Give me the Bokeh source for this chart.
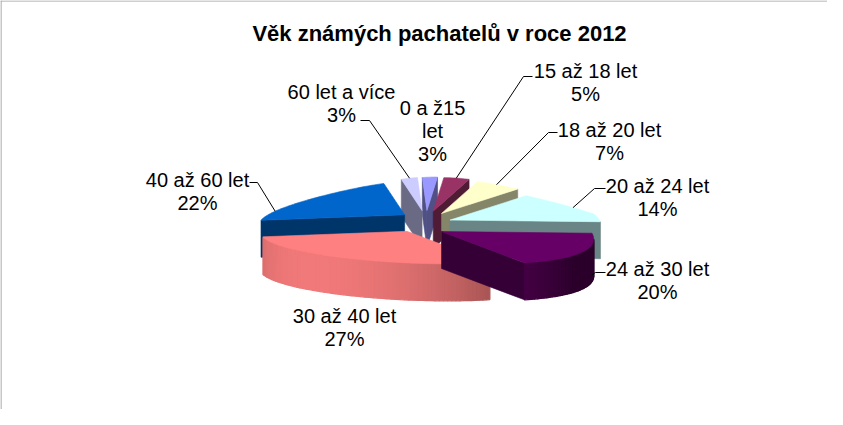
import numpy as np
from bokeh.plotting import figure
from bokeh.models import Range1d, Span
from bokeh.core.properties import value
from bokeh.embed import file_html
from bokeh.resources import INLINE

# ---------------- data ----------------
categories = ["0 a ž15 let", "15 až 18 let", "18 až 20 let", "20 až 24 let",
              "24 až 30 let", "30 až 40 let", "40 až 60 let", "60 let a více"]
values = [3, 5, 7, 14, 20, 27, 22, 3]
colors = ["#9999FF", "#993366", "#FFFFCC", "#CCFFFF",
          "#660066", "#FF8080", "#0066CC", "#CCCCFF"]
title_text = "Věk známých pachatelů v roce 2012"

# ---------------- layout (not data) ----------------
label_wrap = [True, False, False, False, False, False, False, False]
label_pos = [(440, 115), (593, 78), (617, 137), (665, 193),
             (665, 276), (352, 323), (205, 187), (349, 99)]
LINE_H = 23
# leader: (start near text, elbow, (fraction along slice, depth z)) or None
leaders = [None,
           ((540, 84), (531, 84), (0.5, 0.0)),
           ((565, 140), (556, 140), (0.5, 0.0)),
           ((613, 196), (602, 196), (0.5, 0.0)),
           ((613, 280), (603, 280), (0.3, 0.8)),
           None,
           ((257, 190), (265, 190), (0.2, 0.0)),
           ((368, 128), (377, 128), (0.5, 0.0))]

# projection parameters of the 3-D pie
CX, CY = 432.0, 230.0
RX = 144.0
RY1, RY2 = 32.5, 0.5
K = 0.42           # far side narrowing
A, B = 32.7, 37.3  # horizontal drift with depth
T = -6.0           # slight tilt
D = 37.0           # thickness
EX, EY = 26.0, 12.0  # explosion
L = np.array([-0.8, 0.3, 0.5]); L = L / np.linalg.norm(L)


def proj(theta_deg, r, z, em_deg):
    t = np.radians(theta_deg)
    em = np.radians(em_deg)
    u = r * np.sin(t)
    v = r * np.cos(t)
    sc = 1 - K * np.maximum(v, 0)
    x = CX + RX * u * sc + A * v * v - B * v + EX * np.sin(em)
    y = CY - RY1 * v - RY2 * v * v + T * u + D * z - EY * np.cos(em)
    return x, y


def shade(hexc, f):
    h = hexc.lstrip("#")
    rgb = [int(h[i:i + 2], 16) for i in (0, 2, 4)]
    rgb = [max(0, min(255, int(round(c * f)))) for c in rgb]
    return "#%02x%02x%02x" % tuple(rgb)


def area(xs, ys):
    xs = np.asarray(xs); ys = np.asarray(ys)
    return 0.5 * np.sum(xs * np.roll(ys, -1) - np.roll(xs, -1) * ys)


total = float(sum(values))
bounds = np.concatenate([[0.0], np.cumsum(values)]) / total * 360.0

faces_x, faces_y, faces_c, faces_w = [], [], [], []
order = sorted(range(len(values)),
               key=lambda i: -np.cos(np.radians((bounds[i] + bounds[i + 1]) / 2)))

for i in order:
    t1, t2 = bounds[i], bounds[i + 1]
    em = (t1 + t2) / 2
    n = max(3, int(np.ceil((t2 - t1) / 1.5)))
    ts = np.linspace(t1, t2, n + 1)
    ax0, ay0 = proj(0, 0, 0, em)
    ax1, ay1 = proj(0, 0, 1, em)
    rx0, ry0 = proj(ts, 1, 0, em)
    rx1, ry1 = proj(ts, 1, 1, em)
    top_x = np.concatenate([[ax0], rx0])
    top_y = np.concatenate([[ay0], ry0])
    s_top = np.sign(area(top_x, top_y))
    cand = []
    # radial faces
    cand.append(([rx0[0], ax0, ax1, rx1[0]], [ry0[0], ay0, ay1, ry1[0]],
                 shade(colors[i], 0.52), 0.6))
    cand.append(([ax0, rx0[-1], rx1[-1], ax1], [ay0, ry0[-1], ry1[-1], ay1],
                 shade(colors[i], 0.52), 0.6))
    # outer wall
    for k in range(n):
        tm = np.radians((ts[k] + ts[k + 1]) / 2)
        nx, nz = np.sin(tm), -np.cos(tm)
        nl = nx * L[0] + nz * L[2]
        f = 0.42 + 0.55 * max(0.0, nl)
        cand.append(([rx0[k], rx1[k], rx1[k + 1], rx0[k + 1]],
                     [ry0[k], ry1[k], ry1[k + 1], ry0[k + 1]], shade(colors[i], f), 1.3))
    for fx, fy, fc, fw in cand:
        if np.sign(area(fx, fy)) == s_top:
            faces_x.append(list(map(float, fx)))
            faces_y.append(list(map(float, fy)))
            faces_c.append(fc)
            faces_w.append(fw)
    faces_x.append(list(map(float, top_x)))
    faces_y.append(list(map(float, top_y)))
    faces_c.append(colors[i])
    faces_w.append(0.6)

# ---------------- figure ----------------
p = figure(width=827, height=409, x_range=Range1d(8, 835), y_range=Range1d(417, 8),
           output_backend="svg", toolbar_location=None, min_border=0)
p.xaxis.visible = False
p.yaxis.visible = False
p.grid.visible = False
p.outline_line_color = None
p.background_fill_color = "white"

p.add_layout(Span(location=8.5, dimension="width", line_color="#a0a0a0", line_width=1))
p.add_layout(Span(location=8.5, dimension="height", line_color="#909090", line_width=1))

p.patches(xs="xs", ys="ys", fill_color="c", line_color="c", line_width="w",
          source=dict(xs=faces_x, ys=faces_y, c=faces_c, w=faces_w))

# leaders
for i, ld in enumerate(leaders):
    if ld is None:
        continue
    (sx, sy), (ex, ey), (fr, zz) = ld
    t1, t2 = bounds[i], bounds[i + 1]
    em = (t1 + t2) / 2
    th = t1 + fr * (t2 - t1)
    px, py = proj(th, 1, zz, em)
    p.line([sx, ex, float(px)], [sy, ey, float(py)], line_color="black", line_width=1)

# labels
tx, ty, tt = [], [], []
for i, cat in enumerate(categories):
    lines = cat.rsplit(" ", 1) if label_wrap[i] else [cat]
    lines = lines + ["%d%%" % values[i]]
    x0, y0 = label_pos[i]
    for j, ln in enumerate(lines):
        tx.append(x0); ty.append(y0 + j * LINE_H); tt.append(ln)
p.text(x=tx, y=ty, text=tt, text_font=value("Liberation Sans"), text_font_size="20px",
       text_align="center", text_baseline="middle", text_color="black")

p.text(x=[447], y=[41], text=[title_text], text_font=value("Liberation Sans"),
       text_font_size="22px", text_font_style="bold", text_align="center",
       text_baseline="middle", text_color="black")

open("out.html", "w").write(file_html(p, INLINE))
